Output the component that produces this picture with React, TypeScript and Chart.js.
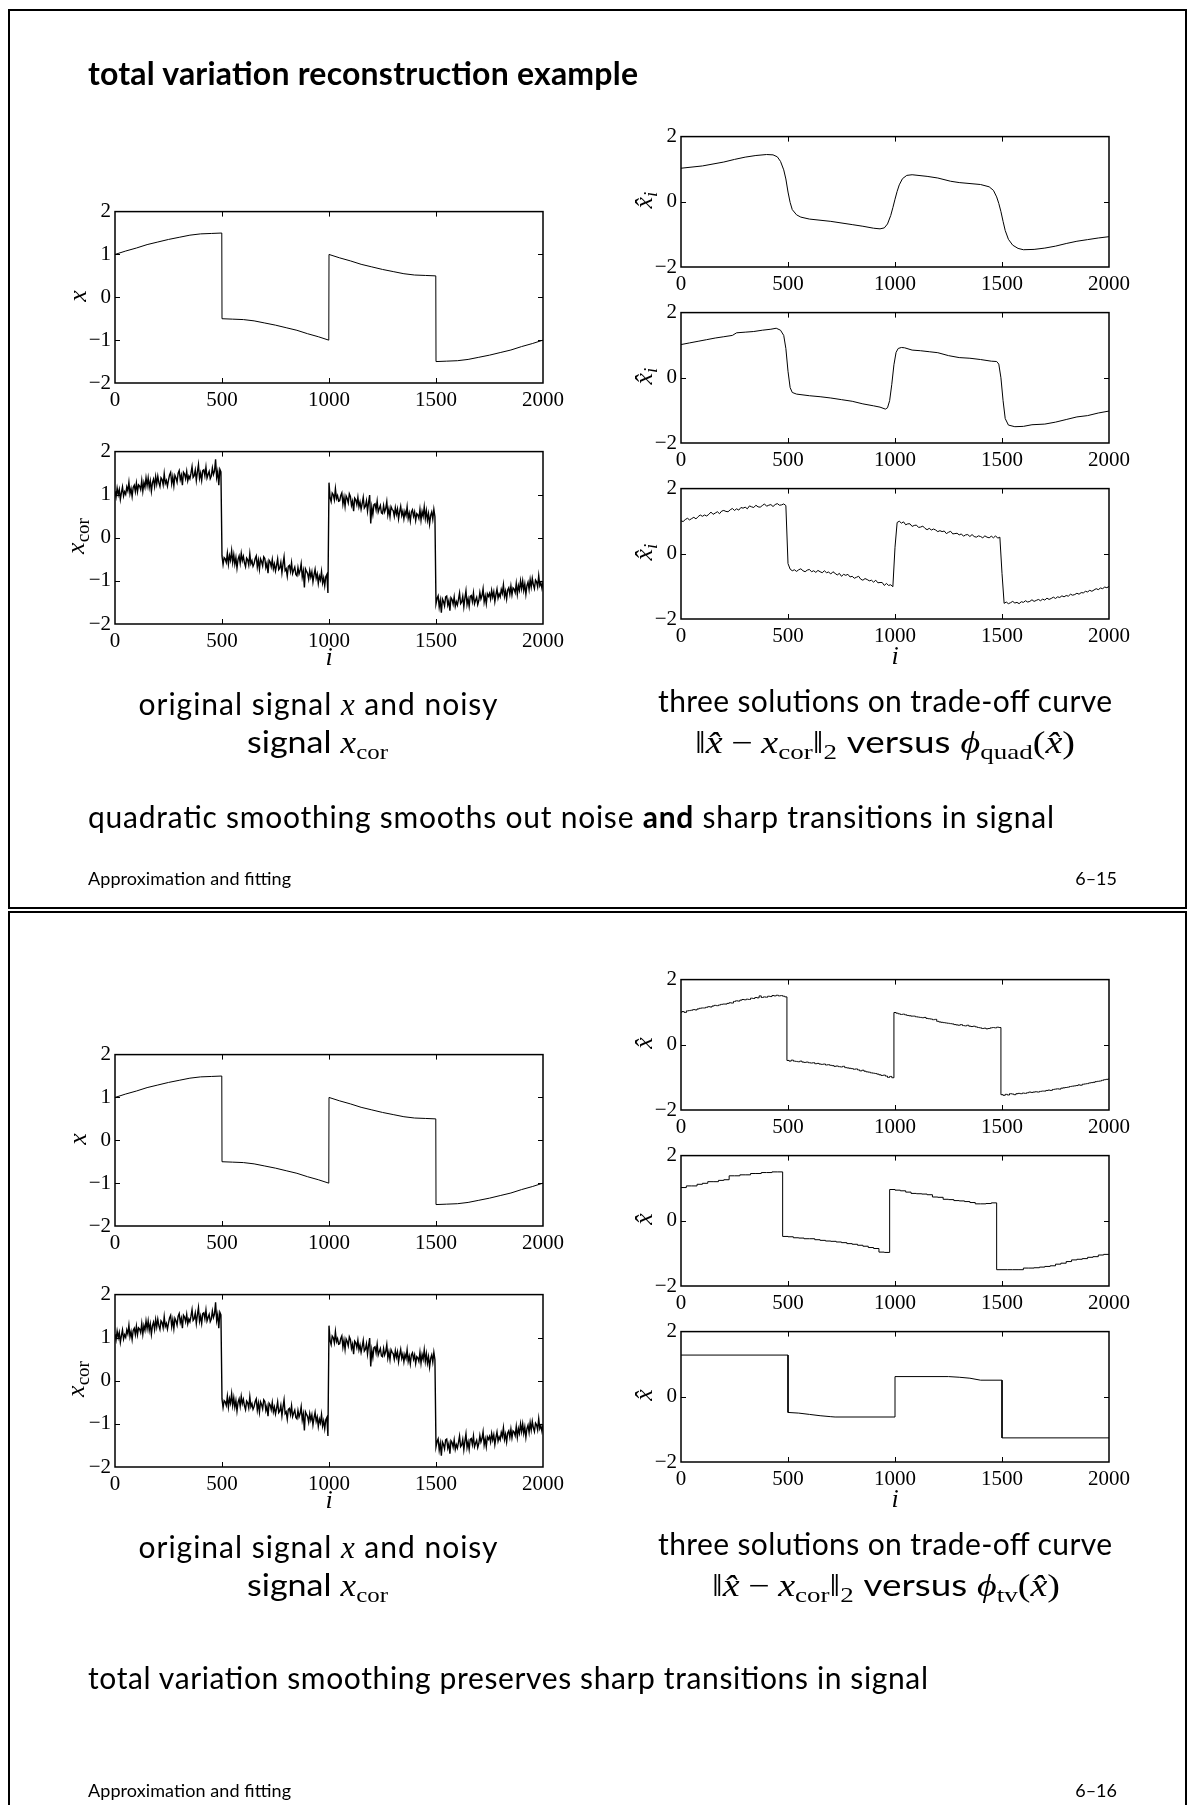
import React, { useEffect, useRef } from 'react';
import { Chart, registerables } from 'chart.js';

Chart.register(...registerables);

// ---------------- data ----------------
const xTickValues = [0, 500, 1000, 1500, 2000];
const yTicksLeft = [-2, -1, 0, 1, 2];
const yTicksRight = [-2, 0, 2];

// original signal x
const sigIdx = [0, 50, 100, 150, 200, 250, 300, 350, 400, 450, 499,
  500, 550, 600, 650, 700, 750, 800, 850, 900, 950, 999,
  1000, 1050, 1100, 1150, 1200, 1250, 1300, 1350, 1400, 1450, 1499,
  1500, 1550, 1600, 1650, 1700, 1750, 1800, 1850, 1900, 1950, 2000];
const sigX = [1.00, 1.08, 1.15, 1.23, 1.29, 1.35, 1.40, 1.45, 1.48, 1.49, 1.50,
  -0.50, -0.51, -0.52, -0.55, -0.60, -0.65, -0.71, -0.77, -0.85, -0.92, -1.00,
  1.00, 0.92, 0.85, 0.77, 0.71, 0.65, 0.60, 0.55, 0.52, 0.51, 0.50,
  -1.50, -1.49, -1.48, -1.45, -1.40, -1.35, -1.29, -1.23, -1.15, -1.08, -1.00];

// noisy signal x_cor, one sample every corStep
const corStep = 5;
const xCor = [
  1.08, 0.95, 1.15, 1.00, 1.12, 0.89, 1.05, 1.18, 0.97, 1.07,
  1.01, 1.18, 1.09, 1.29, 1.02, 1.14, 0.96, 1.17, 1.22, 1.07,
  1.27, 1.07, 1.23, 1.20, 1.12, 1.33, 1.08, 1.28, 1.17, 1.39,
  1.21, 1.39, 1.17, 1.32, 1.08, 1.28, 1.36, 1.19, 1.42, 1.25,
  1.43, 1.28, 1.19, 1.39, 1.35, 1.23, 1.49, 1.26, 1.33, 1.20,
  1.34, 1.46, 1.52, 1.26, 1.42, 1.21, 1.45, 1.39, 1.29, 1.50,
  1.56, 1.35, 1.45, 1.22, 1.52, 1.48, 1.37, 1.54, 1.32, 1.43,
  1.37, 1.50, 1.65, 1.40, 1.44, 1.57, 1.33, 1.53, 1.70, 1.38,
  1.50, 1.33, 1.56, 1.58, 1.44, 1.64, 1.39, 1.47, 1.54, 1.37,
  1.43, 1.62, 1.47, 1.55, 1.82, 1.40, 1.54, 1.22, 1.59, 1.53,
  -0.42, -0.62, -0.46, -0.49, -0.57, -0.36, -0.61, -0.41, -0.52, -0.30,
  -0.57, -0.39, -0.61, -0.46, -0.70, -0.50, -0.42, -0.59, -0.36, -0.53,
  -0.43, -0.58, -0.67, -0.47, -0.51, -0.63, -0.37, -0.60, -0.53, -0.66,
  -0.60, -0.48, -0.42, -0.68, -0.52, -0.73, -0.49, -0.55, -0.65, -0.44,
  -0.48, -0.69, -0.59, -0.82, -0.52, -0.56, -0.67, -0.50, -0.72, -0.61,
  -0.77, -0.64, -0.49, -0.74, -0.70, -0.57, -0.81, -0.61, -0.44, -0.76,
  -0.72, -0.89, -0.66, -0.64, -0.78, -0.58, -0.83, -0.75, -0.68, -0.85,
  -0.88, -0.69, -0.84, -0.76, -0.60, -0.91, -0.77, -1.15, -0.72, -0.78,
  -0.83, -0.96, -0.76, -0.91, -0.79, -1.02, -0.86, -0.73, -0.94, -0.84,
  -1.06, -0.89, -0.98, -0.78, -1.05, -0.93, -1.11, -0.90, -0.85, -1.28,
  1.28, 0.93, 0.84, 1.04, 1.00, 0.88, 1.14, 0.91, 0.98, 0.85,
  0.86, 0.98, 1.04, 0.78, 0.94, 0.73, 0.97, 0.91, 0.81, 1.02,
  0.96, 0.75, 0.85, 0.62, 0.92, 0.88, 0.77, 0.94, 0.72, 0.83,
  0.66, 0.79, 0.94, 0.69, 0.73, 0.86, 0.62, 0.82, 0.99, 0.33,
  0.71, 0.54, 0.77, 0.79, 0.65, 0.85, 0.60, 0.68, 0.75, 0.58,
  0.56, 0.75, 0.60, 0.68, 0.84, 0.53, 0.67, 0.49, 0.72, 0.66,
  0.63, 0.50, 0.70, 0.55, 0.67, 0.44, 0.60, 0.73, 0.52, 0.62,
  0.44, 0.61, 0.52, 0.72, 0.45, 0.57, 0.39, 0.60, 0.65, 0.50,
  0.60, 0.40, 0.56, 0.53, 0.45, 0.66, 0.41, 0.61, 0.50, 0.72,
  0.45, 0.63, 0.41, 0.56, 0.32, 0.52, 0.60, 0.43, 0.66, 0.49,
  -1.53, -1.41, -1.35, -1.61, -1.45, -1.74, -1.42, -1.48, -1.58, -1.37,
  -1.35, -1.56, -1.46, -1.69, -1.39, -1.43, -1.54, -1.37, -1.59, -1.48,
  -1.56, -1.43, -1.28, -1.53, -1.49, -1.36, -1.60, -1.40, -1.23, -1.55,
  -1.42, -1.59, -1.36, -1.34, -1.48, -1.28, -1.53, -1.45, -1.38, -1.55,
  -1.46, -1.27, -1.42, -1.34, -1.18, -1.49, -1.35, -1.53, -1.30, -1.36,
  -1.29, -1.42, -1.22, -1.37, -1.25, -1.48, -1.32, -1.19, -1.40, -1.30,
  -1.37, -1.20, -1.29, -1.09, -1.36, -1.24, -1.42, -1.21, -1.16, -1.31,
  -1.12, -1.32, -1.16, -1.19, -1.27, -1.06, -1.31, -1.11, -1.22, -1.00,
  -1.18, -1.00, -1.22, -1.07, -1.31, -1.11, -1.03, -1.20, -0.97, -1.14,
  -0.94, -1.09, -1.18, -0.98, -1.02, -1.14, -0.88, -1.11, -1.04, -1.17,
  -1.02];

// quadratic smoothing, solution 1 (heavy smoothing)
const q1Idx = [0, 100, 200, 250, 300, 350, 400, 430, 450, 465, 480, 490, 500, 510, 520, 540, 560,
  600, 700, 800, 850, 900, 930, 950, 965, 980, 990, 1000, 1010, 1020, 1035, 1055, 1080, 1150, 1200,
  1260, 1300, 1400, 1440, 1460, 1475, 1485, 1495, 1505, 1515, 1530, 1550, 1575, 1600, 1650, 1700,
  1750, 1800, 1850, 1900, 1950, 2000];
const q1Val = [1.03, 1.10, 1.22, 1.30, 1.37, 1.42, 1.45, 1.44, 1.38, 1.24, 0.98, 0.70, 0.30, -0.02, -0.24, -0.40, -0.47,
  -0.53, -0.60, -0.70, -0.75, -0.81, -0.83, -0.80, -0.68, -0.42, -0.18, 0.08, 0.32, 0.52, 0.71, 0.81, 0.83, 0.78, 0.73,
  0.63, 0.59, 0.53, 0.46, 0.35, 0.15, -0.05, -0.30, -0.60, -0.88, -1.15, -1.33, -1.43, -1.47, -1.46, -1.42,
  -1.36, -1.28, -1.21, -1.16, -1.11, -1.07];

// quadratic smoothing, solution 2
const q2Idx = [0, 40, 80, 120, 160, 200, 240, 260, 300, 340, 380, 420, 445, 465, 480, 490, 500, 510, 520, 540,
  600, 650, 700, 750, 800, 850, 900, 930, 955, 965, 975, 985, 995, 1005, 1015, 1030, 1045, 1080, 1120, 1160,
  1200, 1250, 1300, 1350, 1400, 1450, 1475, 1485, 1495, 1505, 1515, 1530, 1560, 1600, 1640, 1700, 1750, 1800,
  1850, 1900, 1950, 2000];
const q2Val = [1.02, 1.07, 1.12, 1.17, 1.22, 1.26, 1.30, 1.38, 1.40, 1.42, 1.46, 1.49, 1.52, 1.46, 1.30, 0.90, 0.20, -0.30, -0.45, -0.50,
  -0.55, -0.58, -0.62, -0.67, -0.72, -0.80, -0.86, -0.90, -0.96, -0.92, -0.70, -0.20, 0.40, 0.78, 0.90, 0.93, 0.92, 0.85, 0.83, 0.80,
  0.77, 0.68, 0.62, 0.60, 0.56, 0.51, 0.50, 0.42, 0.00, -0.70, -1.25, -1.45, -1.50, -1.49, -1.44, -1.42, -1.36, -1.28,
  -1.20, -1.16, -1.08, -1.02];

// quadratic smoothing, solution 3 (light smoothing), one sample every q3Step
const q3Step = 10;
const q3Val = [
  1.01, 0.99, 1.05, 1.09, 1.04, 1.08, 1.12, 1.07, 1.14, 1.19,
  1.15, 1.19, 1.16, 1.21, 1.28, 1.21, 1.25, 1.29, 1.23, 1.31,
  1.33, 1.30, 1.29, 1.35, 1.39, 1.33, 1.38, 1.34, 1.42, 1.40,
  1.43, 1.38, 1.47, 1.44, 1.42, 1.49, 1.44, 1.43, 1.48, 1.53,
  1.46, 1.49, 1.51, 1.45, 1.51, 1.54, 1.49, 1.50, 1.53, 1.48,
  -0.30, -0.47, -0.52, -0.49, -0.54, -0.49, -0.46, -0.52, -0.55, -0.50,
  -0.48, -0.55, -0.52, -0.57, -0.51, -0.55, -0.58, -0.52, -0.58, -0.56,
  -0.62, -0.55, -0.60, -0.65, -0.60, -0.69, -0.63, -0.66, -0.63, -0.71,
  -0.69, -0.75, -0.72, -0.69, -0.78, -0.81, -0.76, -0.79, -0.83, -0.81,
  -0.87, -0.81, -0.89, -0.88, -0.88, -0.97, -0.91, -0.97, -0.95, -1.01,
  0.20, 0.96, 1.00, 0.94, 0.98, 0.89, 0.92, 0.92, 0.84, 0.87,
  0.88, 0.81, 0.82, 0.85, 0.78, 0.74, 0.78, 0.73, 0.76, 0.73,
  0.68, 0.71, 0.68, 0.70, 0.62, 0.66, 0.69, 0.61, 0.62, 0.63,
  0.58, 0.61, 0.54, 0.58, 0.59, 0.53, 0.59, 0.53, 0.51, 0.55,
  0.53, 0.49, 0.55, 0.51, 0.49, 0.54, 0.49, 0.55, 0.48, 0.51,
  -0.60, -1.52, -1.48, -1.53, -1.50, -1.46, -1.51, -1.49, -1.53, -1.47,
  -1.49, -1.44, -1.48, -1.46, -1.41, -1.46, -1.43, -1.40, -1.44, -1.39,
  -1.42, -1.36, -1.40, -1.37, -1.33, -1.37, -1.32, -1.34, -1.29, -1.32,
  -1.28, -1.30, -1.24, -1.27, -1.25, -1.21, -1.24, -1.19, -1.20, -1.15,
  -1.17, -1.12, -1.15, -1.11, -1.07, -1.10, -1.05, -1.07, -1.02, -1.04,
  -1.00];

// total variation smoothing, solution 1 (light), one sample every tv1Step
const tv1Step = 10;
const tv1Val = [
  1.00, 1.02, 0.99, 1.04, 1.05, 1.06, 1.08, 1.07, 1.10, 1.12,
  1.13, 1.13, 1.15, 1.17, 1.16, 1.19, 1.21, 1.20, 1.22, 1.24,
  1.25, 1.25, 1.27, 1.29, 1.28, 1.33, 1.35, 1.34, 1.37, 1.39,
  1.38, 1.40, 1.39, 1.43, 1.42, 1.45, 1.44, 1.50, 1.45, 1.47,
  1.46, 1.49, 1.48, 1.51, 1.50, 1.52, 1.50, 1.51, 1.49, 1.47,
  -0.48, -0.50, -0.47, -0.50, -0.51, -0.52, -0.50, -0.53, -0.54, -0.53,
  -0.55, -0.56, -0.55, -0.58, -0.57, -0.59, -0.60, -0.59, -0.62, -0.61,
  -0.63, -0.64, -0.66, -0.65, -0.67, -0.68, -0.66, -0.70, -0.71, -0.72,
  -0.73, -0.75, -0.74, -0.77, -0.80, -0.78, -0.81, -0.83, -0.84, -0.86,
  -0.87, -0.88, -0.90, -0.92, -0.94, -0.93, -0.96, -1.00, -0.97, -1.01,
  0.99, 0.97, 0.95, 0.93, 0.94, 0.92, 0.90, 0.89, 0.88, 0.88,
  0.86, 0.85, 0.84, 0.83, 0.84, 0.81, 0.80, 0.79, 0.77, 0.78,
  0.72, 0.70, 0.69, 0.68, 0.67, 0.66, 0.65, 0.64, 0.62, 0.61,
  0.60, 0.62, 0.59, 0.58, 0.60, 0.57, 0.56, 0.57, 0.55, 0.53,
  0.52, 0.50, 0.51, 0.49, 0.50, 0.52, 0.53, 0.52, 0.54, 0.53,
  -1.53, -1.55, -1.52, -1.54, -1.50, -1.51, -1.53, -1.50, -1.49, -1.50,
  -1.48, -1.49, -1.47, -1.45, -1.46, -1.45, -1.44, -1.45, -1.43, -1.42,
  -1.42, -1.40, -1.39, -1.40, -1.37, -1.36, -1.35, -1.36, -1.33, -1.32,
  -1.31, -1.30, -1.28, -1.27, -1.26, -1.25, -1.23, -1.24, -1.21, -1.20,
  -1.19, -1.17, -1.16, -1.15, -1.13, -1.12, -1.11, -1.09, -1.07, -1.06,
  -1.05];

// total variation smoothing, solution 2 (staircase), one sample every tv2Step
const tv2Step = 25;
const tv2Val = [
  1.02, 1.02, 1.07, 1.07, 1.12, 1.15, 1.20, 1.20, 1.24, 1.26,
  1.38, 1.38, 1.41, 1.41, 1.45, 1.45, 1.48, 1.48, 1.50, 1.50,
  -0.48, -0.49, -0.52, -0.53, -0.55, -0.55, -0.58, -0.60, -0.62, -0.63,
  -0.65, -0.67, -0.70, -0.72, -0.75, -0.78, -0.82, -0.85, -0.96, -0.97,
  0.96, 0.94, 0.92, 0.88, 0.84, 0.83, 0.82, 0.80, 0.73, 0.72,
  0.66, 0.65, 0.62, 0.61, 0.59, 0.56, 0.52, 0.52, 0.53, 0.55,
  -1.50, -1.50, -1.50, -1.50, -1.50, -1.45, -1.45, -1.44, -1.42, -1.40,
  -1.38, -1.33, -1.30, -1.25, -1.20, -1.18, -1.16, -1.12, -1.10, -1.05,
  -1.03];

// total variation smoothing, solution 3 (heavy)
const tv3Idx = [0, 500, 500, 550, 600, 650, 700, 720, 1000, 1000, 1250, 1300, 1350, 1400, 1500, 1500, 2000];
const tv3Val = [1.28, 1.28, -0.48, -0.50, -0.54, -0.58, -0.61, -0.62, -0.62, 0.62, 0.62, 0.60, 0.57, 0.51, 0.51, -1.26, -1.26];

// ---------------- helpers ----------------
type Pt = { x: number; y: number };
const pairs = (idx: number[], vals: number[]): Pt[] => vals.map((v, k) => ({ x: idx[k], y: v }));
const sampled = (step: number, vals: number[]): Pt[] => vals.map((v, k) => ({ x: k * step, y: v }));

const SERIF = "'Liberation Serif', 'DejaVu Serif', serif";
const SANS = "Lato, 'Open Sans', 'DejaVu Sans', sans-serif";

const PAD_L = 60;
const PAD_R = 30;
const PAD_T = 14;
const PAD_B = 34;

const fmtY = (v: number) => (v < 0 ? '\u2212' + Math.abs(v) : String(v));

const framePlugin = {
  id: 'mplFrame',
  afterDraw(chart: any) {
    const { ctx, chartArea: a } = chart;
    const xs = chart.scales.x;
    const ys = chart.scales.y;
    const L = 5;
    ctx.save();
    ctx.strokeStyle = '#000';
    ctx.lineWidth = 1;
    ctx.beginPath();
    xs.ticks.forEach((t: any) => {
      if (t.value <= xs.min || t.value >= xs.max) return;
      const p = Math.round(xs.getPixelForValue(t.value)) + 0.5;
      ctx.moveTo(p, a.top);
      ctx.lineTo(p, a.top + L);
      ctx.moveTo(p, a.bottom);
      ctx.lineTo(p, a.bottom - L);
    });
    ys.ticks.forEach((t: any) => {
      if (t.value <= ys.min || t.value >= ys.max) return;
      const p = Math.round(ys.getPixelForValue(t.value)) + 0.5;
      ctx.moveTo(a.left, p);
      ctx.lineTo(a.left + L, p);
      ctx.moveTo(a.right, p);
      ctx.lineTo(a.right - L, p);
    });
    ctx.stroke();
    ctx.lineWidth = 1.5;
    ctx.strokeRect(a.left, a.top, a.right - a.left, a.bottom - a.top);
    ctx.restore();
  },
};

type Series = { pts: Pt[]; stepped?: any; width?: number };

function Plot(props: { left: number; top: number; w: number; h: number; yTicks: number[]; series: Series[] }) {
  const { left, top, w, h, yTicks, series } = props;
  const ref = useRef<HTMLCanvasElement>(null);
  const W = w + PAD_L + PAD_R;
  const H = h + PAD_T + PAD_B;
  useEffect(() => {
    const tickFont = { family: SERIF, size: 21 };
    const chart = new Chart(ref.current as HTMLCanvasElement, {
      type: 'line',
      data: {
        datasets: series.map((s) => ({
          data: s.pts,
          borderColor: '#000',
          borderWidth: s.width ?? 1,
          pointRadius: 0,
          fill: false,
          tension: 0,
          stepped: s.stepped ?? false,
          parsing: false,
          normalized: true,
        })) as any,
      },
      options: {
        animation: false,
        responsive: false,
        devicePixelRatio: 1,
        events: [],
        layout: { padding: { top: PAD_T, right: PAD_R, left: 0, bottom: 0 } },
        plugins: { legend: { display: false }, tooltip: { enabled: false } },
        scales: {
          x: {
            type: 'linear',
            min: 0,
            max: 2000,
            afterBuildTicks: (s: any) => {
              s.ticks = xTickValues.map((v) => ({ value: v }));
            },
            ticks: {
              font: tickFont,
              color: '#000',
              padding: 5,
              maxRotation: 0,
              autoSkip: false,
              callback: (v: any) => String(v),
            },
            grid: { display: false, drawTicks: false },
            border: { display: false },
            afterFit: (s: any) => {
              s.height = PAD_B;
            },
          },
          y: {
            type: 'linear',
            min: -2,
            max: 2,
            afterBuildTicks: (s: any) => {
              s.ticks = yTicks.map((v) => ({ value: v }));
            },
            ticks: {
              font: tickFont,
              color: '#000',
              padding: 4,
              autoSkip: false,
              callback: (v: any) => fmtY(Number(v)),
            },
            grid: { display: false, drawTicks: false },
            border: { display: false },
            afterFit: (s: any) => {
              s.width = PAD_L;
            },
          },
        },
      } as any,
      plugins: [framePlugin],
    });
    return () => chart.destroy();
  }, []);
  return (
    <canvas
      ref={ref}
      width={W}
      height={H}
      style={{ position: 'absolute', left: left - PAD_L, top: top - PAD_T, width: W, height: H }}
    />
  );
}

// ---------------- text helpers ----------------
const MATH = 31;
const SUB = 22;
const TXT = 30;

function YLabel(props: { cx: number; cy: number; children: React.ReactNode }) {
  const { cx, cy, children } = props;
  return (
    <text
      x={cx}
      y={cy}
      transform={`rotate(-90 ${cx} ${cy})`}
      textAnchor="middle"
      fontFamily={SERIF}
      fontSize={26}
      style={{ whiteSpace: 'pre' }}
    >
      {children}
    </text>
  );
}

const It = (p: { children: React.ReactNode; dx?: number }) => (
  <tspan fontFamily={SERIF} fontStyle="italic" fontSize={MATH} dx={p.dx}>
    {p.children}
  </tspan>
);
const Rm = (p: { children: React.ReactNode; dx?: number; dy?: number }) => (
  <tspan fontFamily={SERIF} fontSize={MATH} dx={p.dx} dy={p.dy}>
    {p.children}
  </tspan>
);
const Sub = (p: { children: React.ReactNode }) => (
  <tspan fontFamily={SERIF} fontSize={SUB} dy={6}>
    {p.children}
  </tspan>
);

function NormLine(props: { y: number; cx: number; w: number; phiSub: string }) {
  const { y, cx, w, phiSub } = props;
  return (
    <text x={cx} y={y} textAnchor="middle" fontFamily={SANS} fontSize={TXT} textLength={w} lengthAdjust="spacingAndGlyphs">
      <Rm>{'\u2016'}</Rm>
      <It>{'x\u0302'}</It>
      <Rm dx={7}>{'\u2212'}</Rm>
      <It dx={7}>x</It>
      <Sub>cor</Sub>
      <Rm dy={-6}>{'\u2016'}</Rm>
      <Sub>2</Sub>
      <tspan dy={-6} dx={8}>versus</tspan>
      <It dx={8}>{'\u03D5'}</It>
      <Sub>{phiSub}</Sub>
      <Rm dy={-6}>(</Rm>
      <It>{'x\u0302'}</It>
      <Rm>)</Rm>
    </text>
  );
}

function SlideTexts(props: {
  dy: number;
  phiSub: string;
  normCx: number;
  normW: number;
  bottomLine: React.ReactNode;
  bottomWidth: number;
  page: string;
  title: boolean;
  hatLabel: React.ReactNode;
}) {
  const { dy, phiSub, normCx, normW, bottomLine, bottomWidth, page, title, hatLabel } = props;
  const footY = title ? 885 : 1797;
  return (
    <g>
      {title && (
        <text x={88} y={85} fontFamily={SANS} fontWeight={700} fontSize={32} textLength={550} lengthAdjust="spacing">
          total variation reconstruction example
        </text>
      )}
      {/* left caption */}
      <text x={318} y={715 + dy} textAnchor="middle" fontFamily={SANS} fontSize={TXT} textLength={359} lengthAdjust="spacing" style={{ whiteSpace: 'pre' }}>
        original signal <It>x</It> and noisy
      </text>
      <text x={247} y={753 + dy} fontFamily={SANS} fontSize={TXT} textLength={141} lengthAdjust="spacingAndGlyphs">
        <tspan>signal</tspan>
        <It dx={8}>x</It>
        <Sub>cor</Sub>
      </text>
      {/* right caption */}
      <text x={885} y={712 + dy} textAnchor="middle" fontFamily={SANS} fontSize={TXT} textLength={454} lengthAdjust="spacing" style={{ whiteSpace: 'pre' }}>
        three solutions on trade-off curve
      </text>
      <NormLine y={753 + dy} cx={normCx} w={normW} phiSub={phiSub} />
      {/* statement */}
      <text x={88} y={(title ? 828 : 846) + dy} fontFamily={SANS} fontSize={30} textLength={bottomWidth} lengthAdjust="spacing" style={{ whiteSpace: 'pre' }}>
        {bottomLine}
      </text>
      {/* footer */}
      <text x={88} y={footY} fontFamily={SANS} fontSize={18} textLength={203} lengthAdjust="spacing">
        Approximation and fitting
      </text>
      <text x={1117} y={footY} textAnchor="end" fontFamily={SANS} fontSize={18}>
        {page}
      </text>
      {/* axis labels */}
      <YLabel cx={86} cy={296 + dy}>
        <tspan fontStyle="italic">x</tspan>
      </YLabel>
      <YLabel cx={84} cy={536 + dy}>
        <tspan fontStyle="italic">x</tspan>
        <tspan fontSize={19} dy={5}>cor</tspan>
      </YLabel>
      <YLabel cx={652} cy={200 + dy}>{hatLabel}</YLabel>
      <YLabel cx={652} cy={376 + dy}>{hatLabel}</YLabel>
      <YLabel cx={652} cy={552 + dy}>{hatLabel}</YLabel>
      <text x={329} y={665 + dy} textAnchor="middle" fontFamily={SERIF} fontStyle="italic" fontSize={26}>i</text>
      <text x={895} y={664 + dy} textAnchor="middle" fontFamily={SERIF} fontStyle="italic" fontSize={26}>i</text>
    </g>
  );
}

export default function App() {
  const sig = pairs(sigIdx, sigX);
  const cor = sampled(corStep, xCor);
  const D = 843;
  const hatI = (
    <>
      <tspan fontStyle="italic">{'x\u0302'}</tspan>
      <tspan fontStyle="italic" fontSize={19} dy={5}>i</tspan>
    </>
  );
  const hat = <tspan fontStyle="italic">{'x\u0302'}</tspan>;
  return (
    <div style={{ position: 'absolute', left: 0, top: 0, width: 1193, height: 1805, background: '#fff', overflow: 'hidden' }}>
      {/* slide frames */}
      <div style={{ position: 'absolute', left: 8, top: 9, width: 1179, height: 900, border: '2px solid #000', boxSizing: 'border-box' }} />
      <div style={{ position: 'absolute', left: 8, top: 911, width: 1179, height: 920, border: '2px solid #000', boxSizing: 'border-box' }} />

      {/* slide 6-15 : quadratic smoothing */}
      <Plot left={115} top={209} w={428} h={174} yTicks={yTicksLeft} series={[{ pts: sig }]} />
      <Plot left={115} top={449} w={428} h={175} yTicks={yTicksLeft} series={[{ pts: cor, width: 1.4 }]} />
      <Plot left={681} top={134} w={428} h={133} yTicks={yTicksRight} series={[{ pts: pairs(q1Idx, q1Val) }]} />
      <Plot left={681} top={310} w={428} h={133} yTicks={yTicksRight} series={[{ pts: pairs(q2Idx, q2Val) }]} />
      <Plot left={681} top={486} w={428} h={133} yTicks={yTicksRight} series={[{ pts: sampled(q3Step, q3Val) }]} />

      {/* slide 6-16 : total variation smoothing */}
      <Plot left={115} top={209 + D} w={428} h={174} yTicks={yTicksLeft} series={[{ pts: sig }]} />
      <Plot left={115} top={449 + D} w={428} h={175} yTicks={yTicksLeft} series={[{ pts: cor, width: 1.4 }]} />
      <Plot left={681} top={134 + D} w={428} h={133} yTicks={yTicksRight} series={[{ pts: sampled(tv1Step, tv1Val), stepped: 'middle' }]} />
      <Plot left={681} top={310 + D} w={428} h={133} yTicks={yTicksRight} series={[{ pts: sampled(tv2Step, tv2Val), stepped: 'after' }]} />
      <Plot left={681} top={486 + D} w={428} h={133} yTicks={yTicksRight} series={[{ pts: pairs(tv3Idx, tv3Val) }]} />

      <svg width={1193} height={1805} style={{ position: 'absolute', left: 0, top: 0, pointerEvents: 'none' }}>
        <SlideTexts
          dy={0}
          title={true}
          phiSub="quad"
          normCx={885}
          normW={380}
          page={'6\u201315'}
          hatLabel={hatI}
          bottomWidth={966}
          bottomLine={
            <>
              {'quadratic smoothing smooths out noise '}
              <tspan fontWeight={700}>and</tspan>
              {' sharp transitions in signal'}
            </>
          }
        />
        <SlideTexts
          dy={D}
          title={false}
          phiSub="tv"
          normCx={886}
          normW={348}
          page={'6\u201316'}
          hatLabel={hat}
          bottomWidth={840}
          bottomLine={<>{'total variation smoothing preserves sharp transitions in signal'}</>}
        />
      </svg>
    </div>
  );
}
